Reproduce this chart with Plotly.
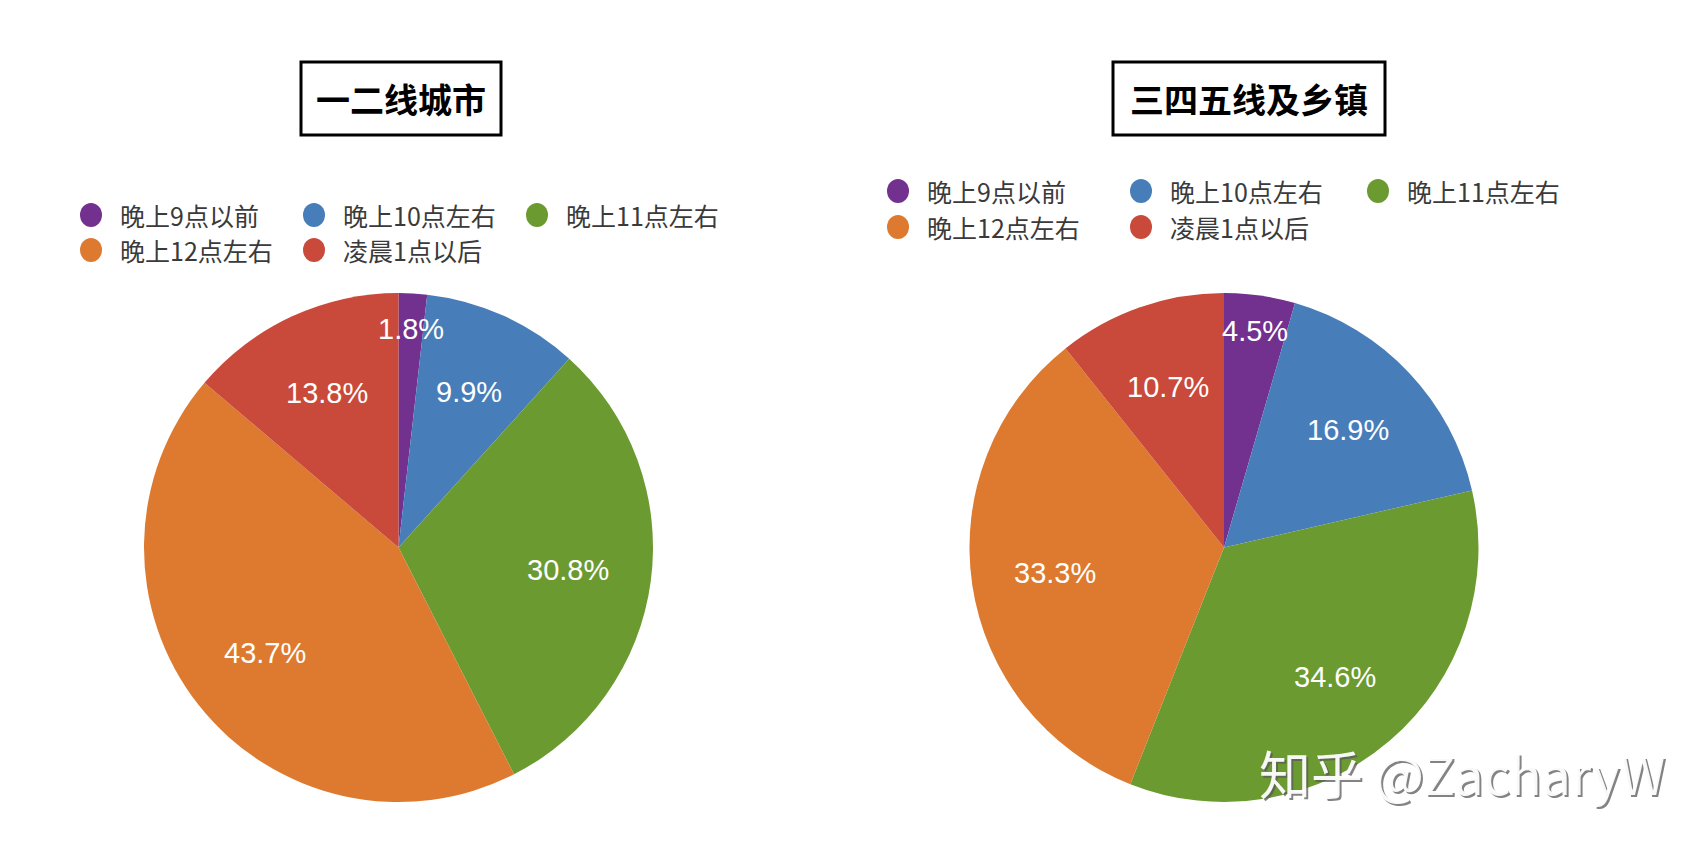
import math
import plotly.graph_objects as go

W, H = 1704, 848

categories = ["晚上9点以前", "晚上10点左右", "晚上11点左右", "晚上12点左右", "凌晨1点以后"]
tier12_values = [1.8, 9.9, 30.8, 43.7, 13.8]
tier345_values = [4.5, 16.9, 34.6, 33.3, 10.7]
titles = ["一二线城市", "三四五线及乡镇"]

colors = ["#72308F", "#477DB9", "#6B9A30", "#DD7A30", "#C9493A"]

CJK = "Noto Sans CJK SC"
NUM = "Liberation Sans, Arial, sans-serif"

# pixel geometry of each pie: (center x, center y, radius)
pies = [(398.5, 547.5, 254.5), (1224.0, 547.5, 254.5)]


def px2x(px):
    return px / W


def px2y(py):
    return 1 - py / H


fig = go.Figure()
annotations = []
shapes = []

for (cx, cy, r), vals in zip(pies, [tier12_values, tier345_values]):
    fig.add_trace(go.Pie(
        labels=categories,
        values=vals,
        sort=False,
        direction="clockwise",
        rotation=0,
        marker=dict(colors=colors, line=dict(width=0)),
        textinfo="none",
        hoverinfo="label+percent",
        showlegend=False,
        domain=dict(x=[px2x(cx - r), px2x(cx + r)], y=[px2y(cy + r), px2y(cy - r)]),
    ))
    total = sum(vals)
    cum = 0.0
    for v in vals:
        frac = v / total
        mid = (cum + frac / 2) * 2 * math.pi
        cum += frac
        f = 0.67 if frac >= 0.06 else 0.86
        lx = cx + f * r * math.sin(mid)
        ly = cy - f * r * math.cos(mid)
        annotations.append(dict(
            x=px2x(lx), y=px2y(ly), xref="paper", yref="paper",
            text=f"{v:.1f}%", showarrow=False, xanchor="center", yanchor="middle",
            font=dict(family=NUM, size=29, color="white"),
        ))

# Boxed titles
title_boxes = [(301, 501), (1113, 1385)]
for t, (x0, x1) in zip(titles, title_boxes):
    shapes.append(dict(type="rect", xref="paper", yref="paper",
                       x0=px2x(x0), x1=px2x(x1), y0=px2y(135), y1=px2y(62),
                       line=dict(color="black", width=3), fillcolor="white", layer="below"))
    annotations.append(dict(
        x=px2x((x0 + x1) / 2), y=px2y(98.5), xref="paper", yref="paper",
        text=f"<b>{t}</b>", showarrow=False, xanchor="center", yanchor="middle",
        font=dict(family=CJK, size=34, color="black"),
    ))

# Custom legends (circle markers + text)
legend_layouts = [
    dict(cols=[91, 314, 537], rows=[215, 250]),
    dict(cols=[898, 1141, 1378], rows=[191, 227]),
]
for lay in legend_layouts:
    for i, (name, col) in enumerate(zip(categories, colors)):
        row, c = divmod(i, 3)
        mx = lay["cols"][c]
        my = lay["rows"][row]
        shapes.append(dict(type="circle", xref="paper", yref="paper",
                           x0=px2x(mx - 11), x1=px2x(mx + 11),
                           y0=px2y(my + 12), y1=px2y(my - 12),
                           fillcolor=col, line=dict(width=0)))
        annotations.append(dict(
            x=px2x(mx + 27), y=px2y(my), xref="paper", yref="paper",
            text=name, showarrow=False, xanchor="left", yanchor="middle",
            font=dict(family=CJK, size=25, color="#3a3a3a"),
        ))

# Watermark
wm = "知乎 @ZacharyW"
annotations.append(dict(x=px2x(1257 + 2), y=px2y(772 + 2), xref="paper", yref="paper",
                        text=wm, showarrow=False, xanchor="left", yanchor="middle",
                        font=dict(family=CJK, size=52, color="rgba(90,90,90,0.75)")))
annotations.append(dict(x=px2x(1257), y=px2y(772), xref="paper", yref="paper",
                        text=wm, showarrow=False, xanchor="left", yanchor="middle",
                        font=dict(family=CJK, size=52, color="rgba(255,255,255,0.95)")))

fig.update_layout(
    width=W, height=H,
    margin=dict(l=0, r=0, t=0, b=0),
    paper_bgcolor="white", plot_bgcolor="white",
    annotations=annotations, shapes=shapes,
    showlegend=False,
)

fig.write_html("out.html")
